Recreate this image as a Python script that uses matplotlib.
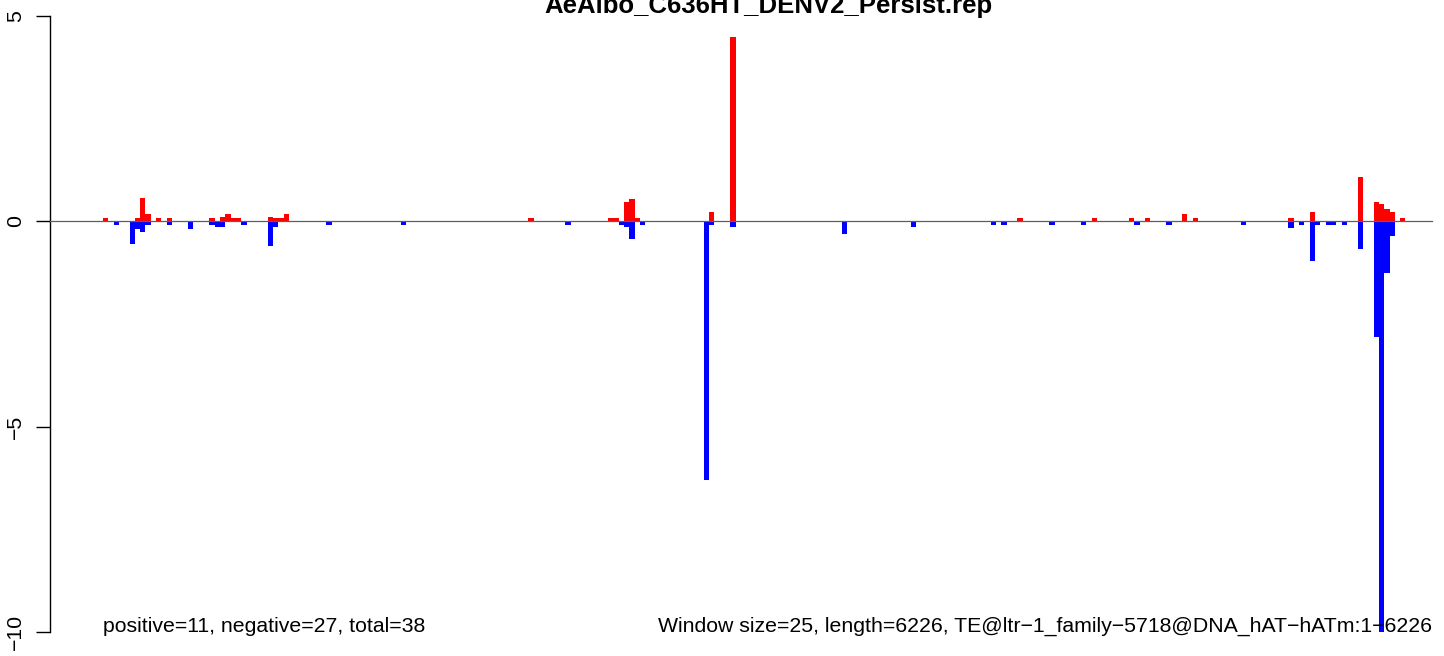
import matplotlib
matplotlib.use("Agg")
import matplotlib.pyplot as plt

plt.rcParams.update({
    "font.family": ["Liberation Sans", "DejaVu Sans"],
    "axes.unicode_minus": True,
})

# windows of 25 bp over a 6226 bp TE
n_windows = 250
title = "AeAlbo_C636HT_DENV2_Persist.rep"
left_note = "positive=11, negative=27, total=38"
right_note = "Window size=25, length=6226, TE@ltr\u22121_family\u22125718@DNA_hAT\u2212hATm:1\u22126226"

pos_idx = [0, 6, 7, 8, 10, 12, 20, 22, 23, 24, 25, 31, 32, 33, 34, 80, 95, 96, 98, 99,
           100, 114, 118, 172, 186, 193, 196, 203, 205, 223, 227, 236, 239, 240, 241,
           242, 244]
pos_val = [0.07, 0.07, 0.58, 0.17, 0.07, 0.07, 0.07, 0.11, 0.17, 0.07, 0.07, 0.11, 0.07,
           0.07, 0.17, 0.07, 0.07, 0.07, 0.47, 0.55, 0.07, 0.23, 4.48, 0.07, 0.07, 0.07,
           0.07, 0.18, 0.07, 0.07, 0.22, 1.07, 0.46, 0.42, 0.29, 0.22, 0.07]

neg_idx = [2, 5, 6, 7, 8, 12, 16, 20, 21, 22, 26, 31, 32, 42, 56, 87, 97, 98, 99, 101,
           113, 114, 118, 139, 152, 167, 169, 178, 184, 194, 200, 214, 223, 225, 227,
           228, 230, 231, 233, 236, 239, 240, 241, 242]
neg_val = [-0.08, -0.55, -0.19, -0.27, -0.08, -0.08, -0.19, -0.08, -0.14, -0.14, -0.08,
           -0.61, -0.14, -0.08, -0.08, -0.08, -0.08, -0.14, -0.43, -0.08, -6.31, -0.08,
           -0.14, -0.31, -0.14, -0.08, -0.08, -0.08, -0.08, -0.08, -0.08, -0.08, -0.16,
           -0.08, -0.97, -0.08, -0.08, -0.08, -0.08, -0.68, -2.82, -10.0, -1.27, -0.36]

yticks = [-10, -5, 0, 5]

W, H = 1444, 656
fig = plt.figure(figsize=(W / 100, H / 100), dpi=100)
# plot region in pixels: x 49.8..1485.2, y -8.6..656.6 (R-style 4% padding)
ax = fig.add_axes([49.8 / W, -0.6 / H, 1435.4 / W, 665.2 / H])
ax.set_xlim(-10, 260)
ax.set_ylim(-10.6, 5.6)

ax.bar(pos_idx, pos_val, width=1, align="edge", color="#ff0000", linewidth=0)
ax.bar(neg_idx, neg_val, width=1, align="edge", color="#0000ff", linewidth=0)
ax.plot([-10, n_windows], [0, 0], color="#5f5f5f", lw=0.9, zorder=3)

for s in ["top", "right", "bottom"]:
    ax.spines[s].set_visible(False)
ax.spines["left"].set_bounds(-10, 5)
ax.spines["left"].set_linewidth(1.0)
ax.set_xticks([])
ax.set_yticks(yticks)
ax.set_yticklabels([str(v).replace("-", "\u2212") for v in yticks],
                   rotation=90, va="center", fontsize=15.3)
ax.tick_params(axis="y", length=10, width=1.0, pad=8)

ax.text(0, -10, left_note, ha="left", va="baseline", fontsize=15.3)
ax.text(n_windows, -10, right_note, ha="right", va="baseline", fontsize=15.3)

fig.text(768 / W, 1 - 13 / H, title, ha="center", va="baseline",
         fontsize=18.5, fontweight="bold")

fig.savefig("out.png", dpi=100)
